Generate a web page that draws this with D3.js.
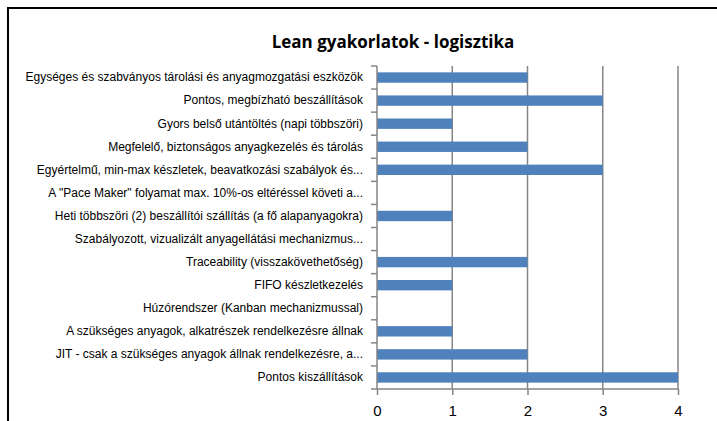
<!DOCTYPE html>
<html><head><meta charset="utf-8">
<script src="https://cdn.jsdelivr.net/npm/d3@7"></script>
<style>
body{margin:0;background:#fff;}
svg{display:block;}
</style></head>
<body>
<svg id="chart" width="717" height="421"></svg>
<script>
const title = "Lean gyakorlatok - logisztika";
const categories = [
  "Egységes és szabványos tárolási és anyagmozgatási eszközök",
  "Pontos, megbízható beszállítások",
  "Gyors belső utántöltés (napi többszöri)",
  "Megfelelő, biztonságos anyagkezelés és tárolás",
  "Egyértelmű, min-max készletek, beavatkozási szabályok és...",
  "A \"Pace Maker\" folyamat max. 10%-os eltéréssel követi a...",
  "Heti többszöri (2) beszállítói szállítás (a fő alapanyagokra)",
  "Szabályozott, vizualizált anyagellátási mechanizmus...",
  "Traceability (visszakövethetőség)",
  "FIFO készletkezelés",
  "Húzórendszer (Kanban mechanizmussal)",
  "A szükséges anyagok, alkatrészek rendelkezésre állnak",
  "JIT - csak a szükséges anyagok állnak rendelkezésre, a...",
  "Pontos kiszállítások"
];
const values = [2, 3, 1, 2, 3, 0, 1, 0, 2, 1, 0, 1, 2, 4];
const xTicks = [0, 1, 2, 3, 4];

const svg = d3.select("#chart");
const L = 377, R = 678, T = 66, B = 389;
const grid = "#868686";

// frame
svg.append("rect").attr("x", 8).attr("y", 8).attr("width", 760).attr("height", 460)
  .attr("fill", "none").attr("stroke", "#000").attr("stroke-width", 2);

svg.append("text").attr("x", 393).attr("y", 48).attr("text-anchor", "middle")
  .attr("font-family", "'Open Sans', sans-serif").attr("font-weight", "bold")
  .attr("font-size", 17).attr("fill", "#000").text(title);

const x = d3.scaleLinear().domain([0, 4]).range([L, R]);
const y = d3.scaleBand().domain(categories).range([T, B]).paddingInner(0.55).paddingOuter(0.275);

// gridlines
svg.append("g").selectAll("line").data(xTicks.slice(1)).join("line")
  .attr("x1", d => x(d)).attr("x2", d => x(d)).attr("y1", T).attr("y2", B)
  .attr("stroke", grid).attr("stroke-width", 1.5);

// bars
svg.append("g").selectAll("rect").data(values).join("rect")
  .attr("x", x(0)).attr("y", (d, i) => y(categories[i]))
  .attr("width", d => x(d) - x(0)).attr("height", y.bandwidth())
  .attr("fill", "#4F81BD");

// left axis labels
const yAxis = svg.append("g").attr("transform", `translate(${L},0)`)
  .call(d3.axisLeft(y).tickSize(0).tickPadding(14));
yAxis.select(".domain").remove();
yAxis.selectAll("text").attr("font-family", "'Liberation Sans', sans-serif")
  .attr("font-size", 12).attr("fill", "#000");

// left axis line and boundary ticks
svg.append("line").attr("x1", L).attr("x2", L).attr("y1", T).attr("y2", B)
  .attr("stroke", grid).attr("stroke-width", 1.5);
const bounds = d3.range(categories.length + 1).map(i => T + i * y.step());
svg.append("g").selectAll("line").data(bounds).join("line")
  .attr("x1", L - 6).attr("x2", L).attr("y1", d => d).attr("y2", d => d)
  .attr("stroke", grid).attr("stroke-width", 1.5);

// bottom axis
const xAxis = svg.append("g").attr("transform", `translate(0,${B})`)
  .call(d3.axisBottom(x).tickValues(xTicks).tickFormat(d3.format("d")).tickSize(6).tickPadding(10));
xAxis.select(".domain").attr("stroke", grid).attr("stroke-width", 1.5).attr("d", `M${L},0H${R}`);
xAxis.selectAll(".tick line").attr("stroke", grid).attr("stroke-width", 1.5);
xAxis.selectAll("text").attr("font-family", "'Liberation Sans', sans-serif")
  .attr("font-size", 15).attr("fill", "#000");
</script>
</body></html>
